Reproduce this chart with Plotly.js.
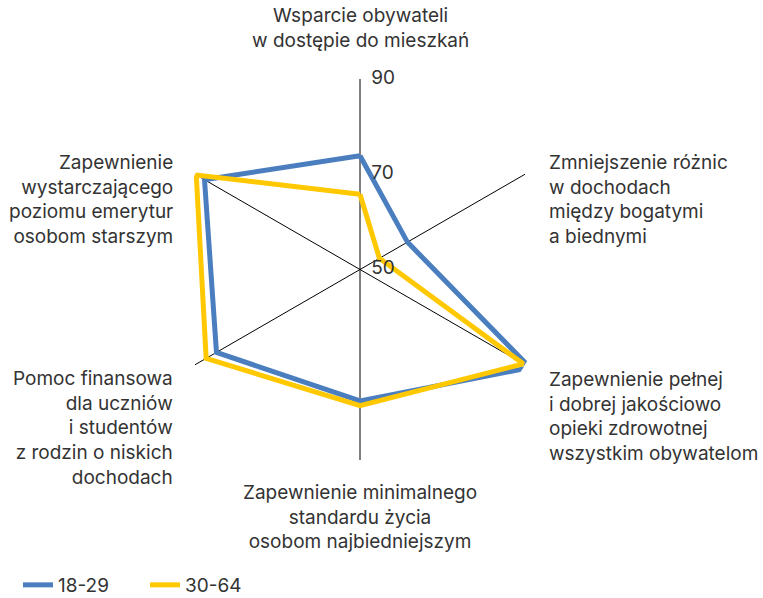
<!DOCTYPE html>
<html>
<head>
<meta charset="utf-8">
<script src="https://cdn.plot.ly/plotly-3.0.1.min.js"></script>
<style>html,body{margin:0;padding:0;background:#fff;}#chart{width:763px;height:598px;}</style>
</head>
<body>
<div id="chart"></div>
<script>
// Categories (axis keys) and their display labels
const categories = ["A1", "A2", "A3", "A4", "A5", "A6"];
const categoryLabels = [
  "Wsparcie obywateli<br>w dostępie do mieszkań",
  "Zmniejszenie różnic<br>w dochodach<br>między bogatymi<br>a biednymi",
  "Zapewnienie pełnej<br>i dobrej jakościowo<br>opieki zdrowotnej<br>wszystkim obywatelom",
  "Zapewnienie minimalnego<br>standardu życia<br>osobom najbiedniejszym",
  "Pomoc finansowa<br>dla uczniów<br>i studentów<br>z rodzin o niskich<br>dochodach",
  "Zapewnienie<br>wystarczającego<br>poziomu emerytur<br>osobom starszym"
];
// Series
const seriesNames = ["18-29", "30-64"];
const values1829 = [73.9, 61.5, 91.2, 77.6, 84.8, 87.7];
const values3064 = [65.8, 54.7, 89.6, 78.6, 87.3, 89.7];
// Radial tick labels
const radialTickVals = [50, 70, 90];
const radialTickText = ["50", "70", "90"];

const textColor = "#333333";
const fontFamily = "Inter, 'Open Sans', sans-serif";
const fontSize = 19;

function closed(arr) { return arr.concat([arr[0]]); }

const traces = [
  {
    type: "scatterpolar", mode: "lines", name: seriesNames[0],
    r: closed(values1829), theta: closed(categories),
    line: {color: "#4a7ebf", width: 5}, cliponaxis: false, hoverinfo: "skip"
  },
  {
    type: "scatterpolar", mode: "lines", name: seriesNames[1],
    r: closed(values3064), theta: closed(categories),
    line: {color: "#ffc800", width: 5}, cliponaxis: false, hoverinfo: "skip"
  },
  {
    type: "scatterpolar", mode: "text", showlegend: false,
    r: radialTickVals, theta: radialTickVals.map(() => categories[0]),
    text: radialTickText.map(t => "\u2002\u200A" + t), textposition: "middle right",
    textfont: {family: fontFamily, size: fontSize, color: textColor},
    cliponaxis: false, hoverinfo: "skip"
  }
];

// label placement (paper coords)
const labelPos = [
  {x: 360, y: 28, xa: "center"},
  {x: 547, y: 199, xa: "left"},
  {x: 547, y: 416, xa: "left"},
  {x: 360, y: 517, xa: "center"},
  {x: 175, y: 428, xa: "right"},
  {x: 175, y: 199, xa: "right"}
];
const W = 763, H = 598;
const annotations = categoryLabels.map((t, i) => ({
  text: t, xref: "paper", yref: "paper",
  x: labelPos[i].x / W, y: 1 - labelPos[i].y / H,
  xanchor: labelPos[i].xa, yanchor: "middle", align: labelPos[i].xa,
  showarrow: false, font: {family: fontFamily, size: fontSize, color: textColor}
}));

const cx = 360, cy = 269.5, R = 190.5;
const layout = {
  width: W, height: H,
  margin: {l: 0, r: 0, t: 0, b: 0, autoexpand: false},
  paper_bgcolor: "#ffffff", plot_bgcolor: "#ffffff",
  font: {family: fontFamily, size: fontSize, color: textColor},
  showlegend: true,
  legend: {
    orientation: "h", x: 18 / W, xanchor: "left", y: 1 - 585 / H, yanchor: "middle",
    font: {family: fontFamily, size: fontSize, color: textColor},
    entrywidth: 82, entrywidthmode: "pixels"
  },
  polar: {
    domain: {x: [(cx - R) / W, (cx + R) / W], y: [(H - cy - R) / H, (H - cy + R) / H]},
    bgcolor: "rgba(0,0,0,0)",
    radialaxis: {
      range: [50, 90], tickvals: radialTickVals, showticklabels: false, ticks: "",
      showgrid: false, showline: false, angle: 90
    },
    angularaxis: {
      categoryorder: "array", categoryarray: categories,
      rotation: 90, direction: "clockwise",
      showgrid: true, gridcolor: "#000000", gridwidth: 1,
      showline: false, showticklabels: false, ticks: ""
    }
  },
  annotations: annotations
};

Plotly.newPlot("chart", traces, layout, {displayModeBar: false, staticPlot: true});
</script>
</body>
</html>
